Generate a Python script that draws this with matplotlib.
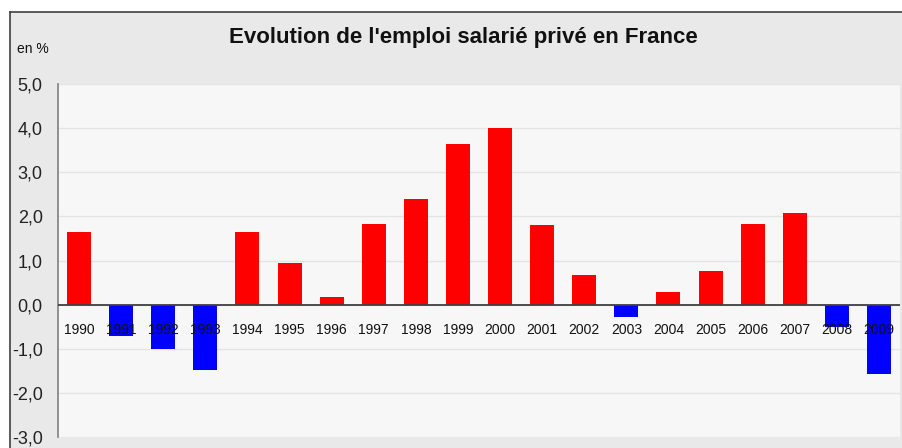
import matplotlib.pyplot as plt
from matplotlib.patches import Rectangle

plt.rcParams['font.family'] = ['Liberation Sans', 'DejaVu Sans']

years = ['1990', '1991', '1992', '1993', '1994', '1995', '1996', '1997', '1998', '1999',
         '2000', '2001', '2002', '2003', '2004', '2005', '2006', '2007', '2008', '2009']
evolution = [1.65, -0.70, -1.00, -1.48, 1.65, 0.95, 0.18, 1.83, 2.40, 3.64,
             4.00, 1.81, 0.68, -0.27, 0.29, 0.77, 1.83, 2.08, -0.50, -1.58]
yticks = [-3, -2, -1, 0, 1, 2, 3, 4, 5]

W, H = 903, 448
fig = plt.figure(figsize=(W / 100, H / 100), dpi=100)
fig.patch.set_facecolor('white')

# outer grey frame, behind the axes
frame = Rectangle((10 / W, 0), 1 - 10 / W, 1 - 12 / H, transform=fig.transFigure,
                  facecolor='#e9e9e9', edgecolor='none', zorder=-5)
fig.add_artist(frame)
fig.add_artist(plt.Line2D([10 / W, 1], [1 - 12 / H, 1 - 12 / H], color='#404040', lw=1.2,
                          transform=fig.transFigure, zorder=-4))
fig.add_artist(plt.Line2D([10 / W, 10 / W], [0, 1 - 12 / H], color='#404040', lw=1.2,
                          transform=fig.transFigure, zorder=-4))

ax = fig.add_axes([58 / W, 11 / H, (900 - 58) / W, (437 - 84) / H])
ax.set_facecolor('#f7f7f7')

x = list(range(len(years)))
colors = ['#ff0000' if v >= 0 else '#0000ff' for v in evolution]
ax.bar(x, evolution, width=0.57, color=colors, zorder=2)

ax.set_xlim(-0.5, len(years) - 0.5)
ax.set_ylim(-3, 5)
ax.set_yticks(yticks)
ax.set_yticklabels([('%.1f' % v).replace('.', ',') for v in yticks], fontsize=13, color='#222222')
ax.tick_params(axis='y', length=0, pad=11)
ax.set_xticks([])
ax.grid(axis='y', color='#e4e4e4', lw=1, zorder=0)
ax.axhline(0, color='#404040', lw=1.3, zorder=3)

for s in ['top', 'right', 'bottom']:
    ax.spines[s].set_visible(False)
ax.spines['left'].set_color('#808080')
ax.spines['left'].set_linewidth(1.2)

for i, yr in enumerate(years):
    ax.text(i, -0.57, yr, ha='center', va='center', fontsize=10, color='#111111', zorder=4)

fig.text(463 / W, 1 - 37 / H, "Evolution de l'emploi salarié privé en France", ha='center', va='center',
         fontsize=16, fontweight='bold', color='#111111')
fig.text(17 / W, 1 - 49 / H, 'en %', ha='left', va='center', fontsize=10, color='#111111')

fig.savefig('out.png', dpi=100)
